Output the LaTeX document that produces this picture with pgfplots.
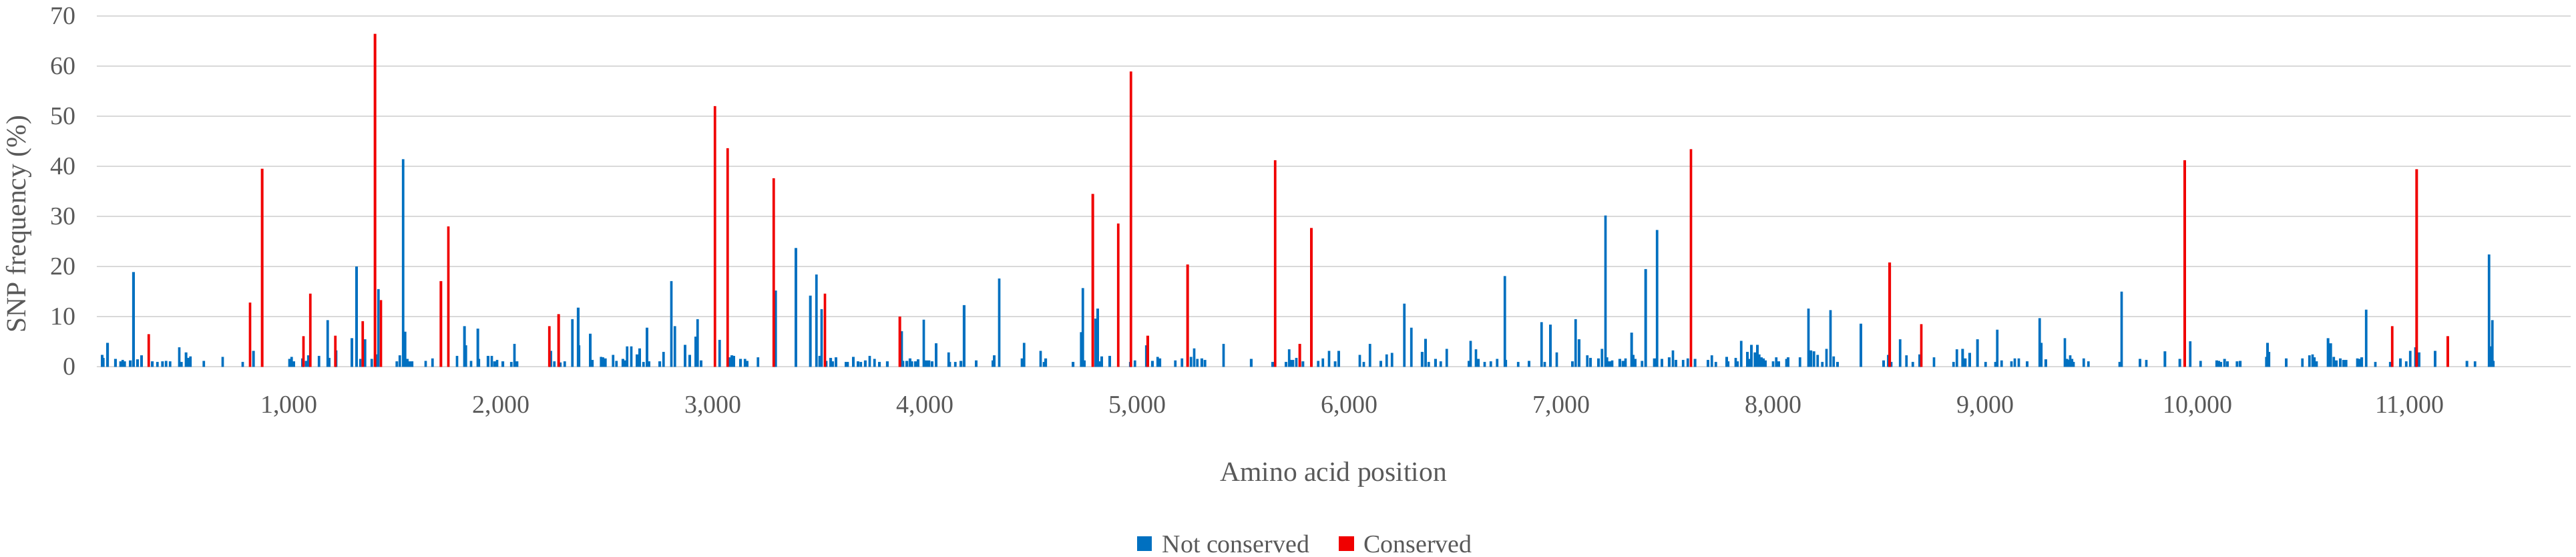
\documentclass[border=0pt]{standalone}
\usepackage{fontspec}
\setmainfont{Liberation Serif}
\usepackage{pgfplots}
\usepackage{pgfplotstable}
\pgfplotsset{compat=1.18}
\definecolor{cblue}{RGB}{0,112,192}
\definecolor{cred}{RGB}{240,0,0}
\definecolor{cgrid}{RGB}{217,217,217}
\definecolor{ctext}{RGB}{89,89,89}

\pgfplotstableread{
x y
118.6 2.4
123.5 1.8
144 4.8
181 1.6
205 1.1
215 1.4
225 1.1
251 1.3
266 18.9
285 1.5
304 2.3
355 1.1
379 1.0
403 1.1
420 1.2
439 1.1
482 3.9
492 1.0
514 2.9
523 1.8
535 2.1
598 1.2
687 2.0
781 1.0
832 3.2
1002 1.6
1012 2.0
1022 1.1
1063 1.7
1080 1.2
1091 2.3
1141 2.2
1182 9.3
1189 1.8
1222 3.3
1296 5.7
1318 20.0
1336 1.6
1358 5.5
1390 1.6
1413 2.5
1421 15.5
1508 1.1
1522 2.3
1538 41.4
1547 7.0
1557 1.6
1568 1.1
1580 1.1
1644 1.2
1676 1.7
1792 2.2
1827 8.1
1834 4.3
1858 1.2
1890 7.6
1895 1.6
1938 2.2
1956 2.2
1969 1.1
1981 1.4
2008 1.1
2048 1.0
2063 4.6
2075 1.1
2234 3.2
2251 1.1
2279 0.9
2300 1.1
2336 9.5
2363 11.8
2367 4.3
2420 6.6
2430 1.4
2471 2.0
2480 1.9
2492 1.7
2528 2.4
2544 1.2
2574 1.6
2584 1.3
2594 4.1
2614 4.1
2641 2.5
2653 3.7
2671 1.0
2688 7.8
2697 1.1
2748 1.1
2766 3.0
2803 17.1
2819 8.1
2867 4.4
2889 2.4
2918 6.0
2926 9.5
2943 1.3
3030 5.4
3078 1.9
3088 2.3
3097 2.2
3129 1.6
3150 1.6
3160 1.2
3211 1.9
3295 15.2
3390 23.7
3458 14.2
3487 18.4
3502 2.2
3511 11.5
3533 1.2
3554 1.8
3563 1.1
3579 1.9
3626 1.0
3634 1.0
3661 2.0
3683 1.1
3696 1.0
3717 1.3
3738 2.2
3761 1.6
3784 1.0
3821 1.1
3889 7.1
3895 1.2
3913 1.2
3928 1.7
3937 1.1
3954 1.1
3966 1.5
3993 9.4
4001 1.3
4012 1.3
4018 1.3
4032 1.1
4051 4.7
4110 2.9
4116 1.0
4142 1.0
4168 1.2
4183 12.3
4240 1.3
4319 1.3
4325 2.3
4349 17.6
4456 1.7
4466 4.8
4544 3.2
4560 1.0
4568 1.7
4697 1.0
4735 6.9
4743 15.7
4750 1.3
4804 9.6
4813 11.6
4823 1.1
4832 2.1
4870 2.2
4967 1.0
4989 1.3
5042 4.3
5071 1.2
5096 2.0
5107 1.7
5179 1.3
5211 1.7
5253 2.0
5268 3.7
5283 1.6
5304 1.7
5319 1.4
5407 4.6
5537 1.6
5638 1.0
5701 1.0
5716 3.5
5726 1.4
5734 1.4
5750 1.8
5781 1.1
5853 1.2
5875 1.7
5904 3.2
5933 1.1
5950 3.2
6049 2.4
6068 1.0
6097 4.6
6148 1.2
6176 2.5
6201 2.8
6259 12.6
6292 7.8
6343 3.0
6359 5.6
6374 1.0
6406 1.6
6431 1.1
6459 3.6
6564 1.2
6572 5.2
6597 3.5
6609 1.6
6638 1.0
6667 1.1
6697 1.6
6733 18.1
6738 1.4
6796 1.0
6847 1.2
6906 8.9
6921 1.0
6948 8.4
6978 2.9
7052 1.1
7067 9.5
7083 5.5
7122 2.3
7137 1.8
7175 1.7
7191 3.6
7208 30.2
7215 1.9
7227 1.1
7239 1.3
7275 1.6
7290 1.2
7302 1.7
7331 6.8
7338 2.4
7348 1.6
7380 1.2
7397 19.5
7438 1.7
7451 27.3
7474 1.6
7508 1.9
7526 3.3
7540 1.4
7574 1.4
7596 1.7
7630 1.6
7691 1.4
7709 2.3
7728 1.0
7779 2.0
7786 1.1
7822 1.8
7830 1.1
7848 5.2
7877 3.0
7886 1.6
7896 4.4
7912 2.9
7924 4.4
7933 2.5
7943 1.9
7953 1.7
7962 1.3
7998 1.1
8013 1.9
8025 1.1
8061 1.6
8069 1.9
8125 1.9
8165 11.6
8177 3.3
8191 3.1
8208 2.4
8230 1.0
8250 3.6
8269 11.3
8284 2.1
8302 1.0
8412 8.6
8519 1.3
8541 2.4
8555 1.0
8597 5.5
8627 2.3
8657 1.0
8689 2.5
8757 1.9
8849 1.0
8865 3.5
8892 3.6
8905 1.7
8925 2.8
8962 5.5
9000 1.0
9047 1.0
9055 7.4
9076 1.3
9122 1.1
9138 1.7
9157 1.7
9196 1.1
9255 9.7
9263 4.8
9284 1.5
9374 5.7
9384 1.6
9391 1.4
9399 2.3
9408 1.6
9415 1.0
9463 1.7
9485 1.1
9632 1.0
9642 15.0
9728 1.6
9758 1.4
9846 3.1
9916 1.6
9965 5.1
10014 1.2
10090 1.3
10100 1.2
10109 1.0
10127 1.6
10141 1.1
10186 1.1
10201 1.2
10324 2.0
10330 4.8
10337 3.0
10418 1.7
10494 1.7
10527 2.3
10542 2.5
10551 1.9
10561 1.1
10615 5.7
10628 4.7
10642 2.0
10655 1.3
10673 1.7
10688 1.4
10700 1.4
10753 1.7
10761 1.6
10774 1.9
10795 11.4
10838 1.0
10908 1.0
10956 1.7
10984 1.1
11003 3.2
11027 3.9
11044 2.9
11120 3.2
11270 1.2
11308 1.1
11374 22.4
11382 4.1
11390 9.3
11395 1.2
}\bluedata

\pgfplotstableread{
x y
338 6.5
816 12.8
873 39.5
1068 6.1
1100 14.6
1218 6.2
1347 9.1
1405 66.4
1433 13.3
1716 17.1
1751 28.0
2227 8.1
2271 10.5
3008 52.0
3068 43.6
3285 37.6
3527 14.6
3880 10.0
4790 34.5
4910 28.6
4970 58.9
5049 6.2
5237 20.4
5650 41.2
5766 4.6
5821 27.7
7611 43.4
8548 20.8
8697 8.5
9939 41.2
10918 8.1
11033 39.4
11180 6.1
}\reddata

\begin{document}
\begin{tikzpicture}
\path[use as bounding box] (-36.175pt,-71.175pt) rectangle (928.325pt,137.325pt);
\begin{axis}[
  scale only axis,
  width=926.3pt, height=131.4pt,
  xmin=92.3, xmax=11759, ymin=0, ymax=70,
  enlargelimits=false,
  xtick={1000,2000,...,11000},
  ytick={0,10,...,70},
  scaled x ticks=false,
  ymajorgrids,
  grid style={cgrid, line width=0.55pt},
  axis line style={draw=none},
  major tick length=0pt,
  tick style={draw=none},
  /pgf/number format/1000 sep={,},
  /pgf/number format/assume math mode=true,
  ticklabel style={font=\fontsize{9.5}{11}\selectfont, text=ctext, inner sep=0pt},
  yticklabel style={anchor=east, xshift=-7.7pt},
  xticklabel style={anchor=north, yshift=-10.9pt},
  xlabel={Amino acid position},
  ylabel={SNP frequency (\%)},
  every axis x label/.style={at={([yshift=-42.7pt]axis description cs:0.5,0)}, anchor=base, font=\fontsize{10.4}{12}\selectfont, text=ctext, inner sep=0pt},
  every axis y label/.style={at={([xshift=-26.6pt]axis description cs:0,0.406)}, rotate=90, anchor=base, font=\fontsize{10.4}{12}\selectfont, text=ctext, inner sep=0pt},
  legend columns=2,
  legend cell align=left,
  legend style={at={(axis description cs:0.42056,-0.5035)}, anchor=west, draw=none, fill=none, inner sep=0pt, outer sep=0pt, font=\fontsize{9.5}{11}\selectfont, text=ctext, nodes={inner sep=0pt, text depth=0pt}, /tikz/every even column/.append style={column sep=11pt}},
]
\addplot[ybar, bar width=0.95pt, bar shift=0pt, fill=cblue, draw=none, forget plot] table[x=x, y=y] {\bluedata};
\addplot[ybar, bar width=0.95pt, bar shift=0pt, fill=cred, draw=none, forget plot] table[x=x, y=y] {\reddata};
\addlegendimage{draw=none, legend image code/.code={\fill[cblue, draw=none] (0pt,-2.8pt) rectangle (5.6pt,2.8pt); \path[draw=none, fill=none] (0pt,0pt) -- (9.4pt,0pt);}}
\addlegendentry{Not conserved}
\addlegendimage{draw=none, legend image code/.code={\fill[cred, draw=none] (0pt,-2.8pt) rectangle (5.6pt,2.8pt); \path[draw=none, fill=none] (0pt,0pt) -- (9.3pt,0pt);}}
\addlegendentry{Conserved}
\end{axis}
\end{tikzpicture}
\end{document}
